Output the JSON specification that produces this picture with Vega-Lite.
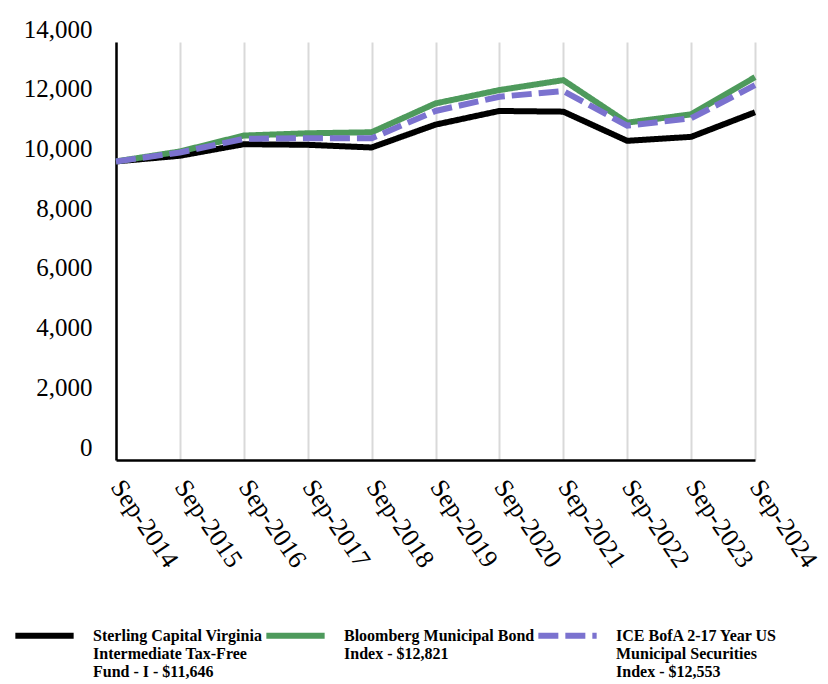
{
  "$schema": "https://vega.github.io/schema/vega-lite/v6.json",
  "autosize": {"type": "none"},
  "width": 639,
  "height": 418,
  "padding": {"left": 116, "top": 42, "right": 73, "bottom": 224},
  "background": "white",
  "config": {
    "view": {"stroke": null},
    "font": "Liberation Serif"
  },
  "data": {
    "values": [
      {"date": "Sep-2014", "series": "Sterling", "value": 10000},
      {"date": "Sep-2015", "series": "Sterling", "value": 10190},
      {"date": "Sep-2016", "series": "Sterling", "value": 10577},
      {"date": "Sep-2017", "series": "Sterling", "value": 10557},
      {"date": "Sep-2018", "series": "Sterling", "value": 10467},
      {"date": "Sep-2019", "series": "Sterling", "value": 11233},
      {"date": "Sep-2020", "series": "Sterling", "value": 11690},
      {"date": "Sep-2021", "series": "Sterling", "value": 11667},
      {"date": "Sep-2022", "series": "Sterling", "value": 10690},
      {"date": "Sep-2023", "series": "Sterling", "value": 10823},
      {"date": "Sep-2024", "series": "Sterling", "value": 11646},
      {"date": "Sep-2014", "series": "Bloomberg", "value": 10000},
      {"date": "Sep-2015", "series": "Bloomberg", "value": 10333},
      {"date": "Sep-2016", "series": "Bloomberg", "value": 10867},
      {"date": "Sep-2017", "series": "Bloomberg", "value": 10943},
      {"date": "Sep-2018", "series": "Bloomberg", "value": 10977},
      {"date": "Sep-2019", "series": "Bloomberg", "value": 11943},
      {"date": "Sep-2020", "series": "Bloomberg", "value": 12390},
      {"date": "Sep-2021", "series": "Bloomberg", "value": 12723},
      {"date": "Sep-2022", "series": "Bloomberg", "value": 11300},
      {"date": "Sep-2023", "series": "Bloomberg", "value": 11577},
      {"date": "Sep-2024", "series": "Bloomberg", "value": 12821},
      {"date": "Sep-2014", "series": "ICE", "value": 10000},
      {"date": "Sep-2015", "series": "ICE", "value": 10300},
      {"date": "Sep-2016", "series": "ICE", "value": 10757},
      {"date": "Sep-2017", "series": "ICE", "value": 10777},
      {"date": "Sep-2018", "series": "ICE", "value": 10777},
      {"date": "Sep-2019", "series": "ICE", "value": 11690},
      {"date": "Sep-2020", "series": "ICE", "value": 12167},
      {"date": "Sep-2021", "series": "ICE", "value": 12357},
      {"date": "Sep-2022", "series": "ICE", "value": 11200},
      {"date": "Sep-2023", "series": "ICE", "value": 11443},
      {"date": "Sep-2024", "series": "ICE", "value": 12553}
    ]
  },
  "mark": {"type": "line", "strokeWidth": 6, "strokeCap": "butt", "strokeJoin": "miter"},
  "encoding": {
    "x": {
      "field": "date",
      "type": "ordinal",
      "scale": {"type": "point", "padding": 0},
      "axis": {
        "title": null,
        "labelAngle": 56,
        "labelAlign": "left",
        "labelBaseline": "middle",
        "labelFontSize": 26,
        "labelColor": "black",
        "labelPadding": 22,
        "labelFont": "Liberation Serif",
        "ticks": false,
        "grid": true,
        "gridColor": "#d9d9d9",
        "gridWidth": 2,
        "domainColor": "black",
        "domainWidth": 2.5
      }
    },
    "y": {
      "field": "value",
      "type": "quantitative",
      "scale": {"domain": [0, 14000], "nice": false},
      "axis": {
        "title": null,
        "values": [0, 2000, 4000, 6000, 8000, 10000, 12000, 14000],
        "format": ",d",
        "labelFontSize": 25,
        "labelColor": "black",
        "labelFont": "Liberation Serif",
        "labelPadding": 24,
        "labelOffset": -13,
        "ticks": false,
        "grid": false,
        "domainColor": "black",
        "domainWidth": 2.5
      }
    },
    "color": {
      "field": "series",
      "type": "nominal",
      "scale": {
        "domain": ["Sterling", "Bloomberg", "ICE"],
        "range": ["#000000", "#4e9a5c", "#7b72cf"]
      },
      "legend": {
        "title": null,
        "orient": "none",
        "legendX": -104,
        "legendY": 561,
        "direction": "horizontal",
        "columns": 3,
        "columnPadding": -10,
        "symbolType": "stroke",
        "symbolSize": 3400,
        "symbolStrokeWidth": 6,
        "labelFont": "Liberation Serif",
        "labelFontWeight": "bold",
        "labelFontSize": 16,
        "labelLineHeight": 16.5,
        "labelColor": "black",
        "labelLimit": 400,
        "labelOffset": 16,
        "labelBaseline": "top",
        "labelExpr": "datum.label == 'Sterling' ? ['Sterling Capital Virginia', 'Intermediate Tax-Free', 'Fund - I - $11,646'] : datum.label == 'Bloomberg' ? ['Bloomberg Municipal Bond', 'Index - $12,821', ' '] : ['ICE BofA 2-17 Year US', 'Municipal Securities', 'Index - $12,553']",
        "encode": {"labels": {"update": {"dy": {"value": -8}}}}
      }
    },
    "strokeDash": {
      "field": "series",
      "type": "nominal",
      "scale": {
        "domain": ["Sterling", "Bloomberg", "ICE"],
        "range": [[1, 0], [1, 0], [20, 7]]
      },
      "legend": {
        "title": null,
        "orient": "none",
        "legendX": -104,
        "legendY": 561,
        "direction": "horizontal",
        "columns": 3,
        "columnPadding": -10,
        "symbolType": "stroke",
        "symbolSize": 3400,
        "symbolStrokeWidth": 6,
        "labelFont": "Liberation Serif",
        "labelFontWeight": "bold",
        "labelFontSize": 16,
        "labelLineHeight": 16.5,
        "labelColor": "black",
        "labelLimit": 400,
        "labelOffset": 16,
        "labelBaseline": "top",
        "labelExpr": "datum.label == 'Sterling' ? ['Sterling Capital Virginia', 'Intermediate Tax-Free', 'Fund - I - $11,646'] : datum.label == 'Bloomberg' ? ['Bloomberg Municipal Bond', 'Index - $12,821', ' '] : ['ICE BofA 2-17 Year US', 'Municipal Securities', 'Index - $12,553']",
        "encode": {"labels": {"update": {"dy": {"value": -8}}}}
      }
    }
  }
}
